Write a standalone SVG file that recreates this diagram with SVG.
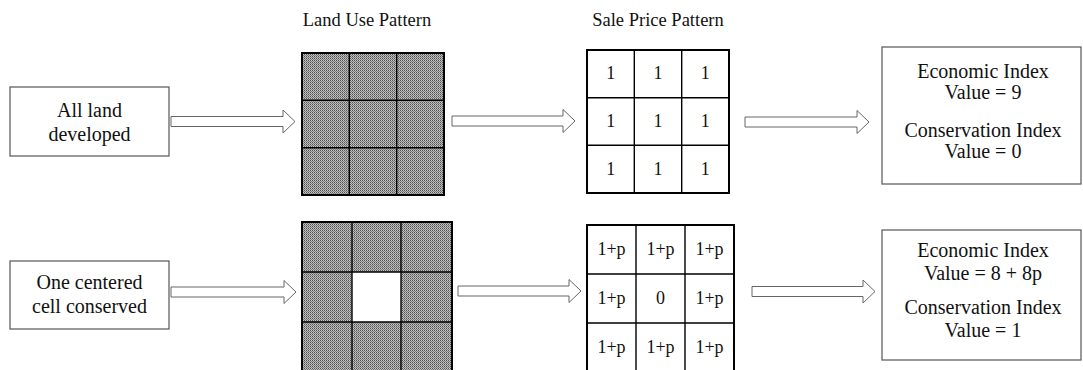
<svg xmlns="http://www.w3.org/2000/svg" width="1083" height="370" viewBox="0 0 1083 370">
<style>
text{font-family:"Liberation Serif","Times New Roman",serif;fill:#111;text-anchor:middle}
.hdr{font-size:18.5px}
.bx{font-size:20px}
.num{font-size:18px}
.box{fill:#fff;stroke:#555;stroke-width:1.2}
.arrow{fill:#fff;stroke:#666;stroke-width:1}
.outer{fill:none;stroke:#000;stroke-width:2}
.inner{stroke:#000;stroke-width:1.4;fill:none}
</style>
<defs>
<pattern id="dither" width="2" height="2" patternUnits="userSpaceOnUse">
<rect x="0" y="0" width="1" height="1" fill="#555"/>
<rect x="1" y="0" width="1" height="1" fill="#c4c4c4"/>
<rect x="0" y="1" width="1" height="1" fill="#b4b4b4"/>
<rect x="1" y="1" width="1" height="1" fill="#7c7c7c"/>
</pattern>
</defs>
<rect width="1083" height="370" fill="#fff"/>

<text class="hdr" x="367" y="26">Land Use Pattern</text>
<text class="hdr" x="658" y="26">Sale Price Pattern</text>

<g id="box-all-developed">
<rect class="box" x="10" y="87" width="159" height="69"/>
<text class="bx" x="89.5" y="117">All land</text>
<text class="bx" x="89.5" y="141">developed</text>
</g>

<g id="landuse-all">
<rect x="302" y="53" width="142" height="142" fill="url(#dither)"/>
<path class="inner" d="M349.3 53V195M396.7 53V195M302 100.3H444M302 147.7H444"/>
<rect class="outer" x="302" y="53" width="142" height="142"/>
</g>

<g id="price-all">
<rect x="587" y="50" width="142" height="143" fill="#fff"/>
<path class="inner" d="M634.3 50V193M681.7 50V193M587 97.7H729M587 145.3H729"/>
<rect class="outer" x="587" y="50" width="142" height="143"/>
<text class="num" x="610.7" y="79">1</text>
<text class="num" x="658" y="79">1</text>
<text class="num" x="705.3" y="79">1</text>
<text class="num" x="610.7" y="127">1</text>
<text class="num" x="658" y="127">1</text>
<text class="num" x="705.3" y="127">1</text>
<text class="num" x="610.7" y="175">1</text>
<text class="num" x="658" y="175">1</text>
<text class="num" x="705.3" y="175">1</text>
</g>

<g id="result-all">
<rect class="box" x="882" y="47" width="199" height="137"/>
<text class="bx" x="983" y="78">Economic Index</text>
<text class="bx" x="983" y="99">Value = 9</text>
<text class="bx" x="983" y="137">Conservation Index</text>
<text class="bx" x="983" y="158">Value = 0</text>
</g>

<g id="box-one-conserved">
<rect class="box" x="10" y="261" width="159" height="68"/>
<text class="bx" x="89.5" y="289">One centered</text>
<text class="bx" x="89.5" y="313">cell conserved</text>
</g>

<g id="landuse-one">
<rect x="302" y="222" width="150" height="150" fill="url(#dither)"/>
<rect x="352" y="272" width="49" height="50" fill="#fff"/>
<path class="inner" d="M352 222V372M401 222V372M302 272H452M302 322H452"/>
<rect class="outer" x="302" y="222" width="150" height="150"/>
</g>

<g id="price-one">
<rect x="587" y="225" width="147" height="147" fill="#fff"/>
<path class="inner" d="M636 225V372M685 225V372M587 274H734M587 323H734"/>
<rect class="outer" x="587" y="225" width="147" height="147"/>
<text class="num" x="611.5" y="255">1+p</text>
<text class="num" x="660.5" y="255">1+p</text>
<text class="num" x="709.5" y="255">1+p</text>
<text class="num" x="611.5" y="304">1+p</text>
<text class="num" x="660.5" y="304">0</text>
<text class="num" x="709.5" y="304">1+p</text>
<text class="num" x="611.5" y="353">1+p</text>
<text class="num" x="660.5" y="353">1+p</text>
<text class="num" x="709.5" y="353">1+p</text>
</g>

<g id="result-one">
<rect class="box" x="882" y="230" width="199" height="130"/>
<text class="bx" x="983" y="257">Economic Index</text>
<text class="bx" x="983" y="280">Value = 8 + 8p</text>
<text class="bx" x="983" y="314">Conservation Index</text>
<text class="bx" x="983" y="337">Value = 1</text>
</g>

<g id="connectors">
<path class="arrow" d="M171 116.5H283V110L295 121.5L283 133V126.5H171Z"/>
<path class="arrow" d="M452 116H563V109.5L575 121L563 132.5V126H452Z"/>
<path class="arrow" d="M745 117H857V110.5L869 122L857 133.5V127H745Z"/>
<path class="arrow" d="M171 287H284V280.5L296 292L284 303.5V297H171Z"/>
<path class="arrow" d="M458 286H569V279.5L581 291L569 302.5V296H458Z"/>
<path class="arrow" d="M752 286.5H863V280L875 291.5L863 303V296.5H752Z"/>
</g>
</svg>
